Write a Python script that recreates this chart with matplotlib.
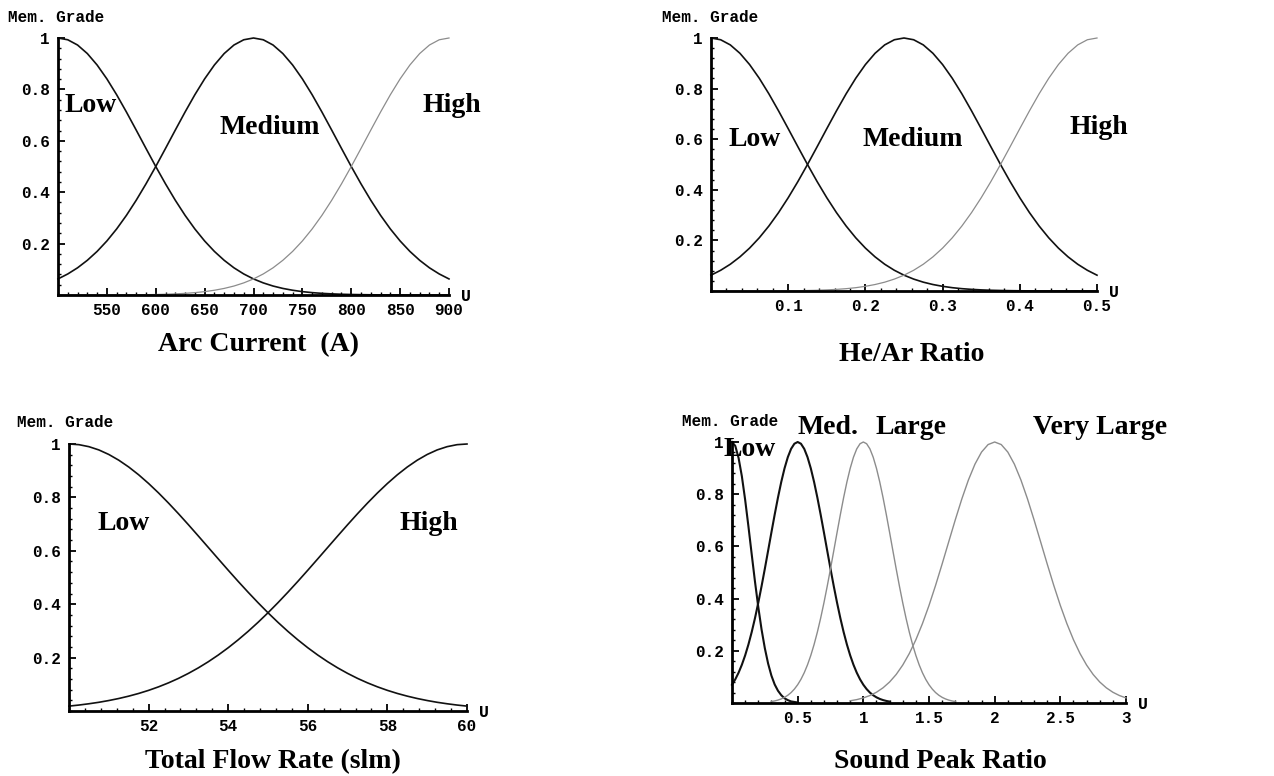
import numpy as np
import matplotlib
matplotlib.use('Agg')
import matplotlib.pyplot as plt
from matplotlib.ticker import MultipleLocator

# ---- data ----
# Arc current (A)
arc_x = np.linspace(500, 900, 41)
arc_low = [1, .9931, .9727, .9395, .8950, .8409, .7792, .7120, .6417, .5704, .5,
           .4323, .3686, .3099, .2570, .2102, .1696, .1350, .1058, .0819, .0625,
           .0471, .0349, .0256, .0185, .0131, .0092, .0064, .0044, .0029, .0020,
           .0013, .0008, .0005, .0003, .0002, .0001, .0001, 0, 0, 0]
arc_med = [.0625, .0819, .1058, .1350, .1696, .2102, .2570, .3099, .3686, .4323,
           .5, .5704, .6417, .7120, .7792, .8409, .8950, .9395, .9727, .9931, 1,
           .9931, .9727, .9395, .8950, .8409, .7792, .7120, .6417, .5704, .5,
           .4323, .3686, .3099, .2570, .2102, .1696, .1350, .1058, .0819, .0625]
arc_high = [0, 0, 0, .0001, .0001, .0002, .0003, .0005, .0008, .0013, .0020,
            .0029, .0044, .0064, .0092, .0131, .0185, .0256, .0349, .0471, .0625,
            .0819, .1058, .1350, .1696, .2102, .2570, .3099, .3686, .4323, .5,
            .5704, .6417, .7120, .7792, .8409, .8950, .9395, .9727, .9931, 1]

# He/Ar ratio
he_x = np.linspace(0, 0.5, 41)
he_low = [1, .9931, .9727, .9395, .8950, .8409, .7792, .7120, .6417, .5704, .5,
          .4323, .3686, .3099, .2570, .2102, .1696, .1350, .1058, .0819, .0625,
          .0471, .0349, .0256, .0185, .0131, .0092, .0064, .0044, .0029, .0020,
          .0013, .0008, .0005, .0003, .0002, .0001, .0001, 0, 0, 0]
he_med = [.0625, .0819, .1058, .1350, .1696, .2102, .2570, .3099, .3686, .4323,
          .5, .5704, .6417, .7120, .7792, .8409, .8950, .9395, .9727, .9931, 1,
          .9931, .9727, .9395, .8950, .8409, .7792, .7120, .6417, .5704, .5,
          .4323, .3686, .3099, .2570, .2102, .1696, .1350, .1058, .0819, .0625]
he_high = [0, 0, 0, .0001, .0001, .0002, .0003, .0005, .0008, .0013, .0020,
           .0029, .0044, .0064, .0092, .0131, .0185, .0256, .0349, .0471, .0625,
           .0819, .1058, .1350, .1696, .2102, .2570, .3099, .3686, .4323, .5,
           .5704, .6417, .7120, .7792, .8409, .8950, .9395, .9727, .9931, 1]

# Total flow rate (slm)
flow_x = np.linspace(50, 60, 41)
flow_low = [1, .9975, .9900, .9778, .9608, .9394, .9139, .8847, .8521, .8167,
            .7788, .7390, .6977, .6554, .6126, .5698, .5273, .4855, .4449, .4056,
            .3679, .3321, .2982, .2665, .2369, .2096, .1845, .1616, .1409, .1221,
            .1054, .0905, .0773, .0657, .0556, .0468, .0392, .0326, .0271, .0223,
            .0183]
flow_high = [.0183, .0223, .0271, .0326, .0392, .0468, .0556, .0657, .0773, .0905,
             .1054, .1221, .1409, .1616, .1845, .2096, .2369, .2665, .2982, .3321,
             .3679, .4056, .4449, .4855, .5273, .5698, .6126, .6554, .6977, .7390,
             .7788, .8167, .8521, .8847, .9139, .9394, .9608, .9778, .9900, .9975,
             1]

# Sound peak ratio
snd_low_x = np.linspace(0, 0.5, 21)
snd_low = [1, .985, .939, .869, .779, .677, .570, .465, .368, .282, .210,
           .151, .105, .071, .047, .030, .018, .011, .006, .004, .002]
snd_med_x = np.linspace(0, 1.2, 49)
snd_med = [.0700, .0907, .1160, .1464, .1823, .2240, .2717, .3251, .3839, .4473,
           .5143, .5836, .6534, .7219, .7871, .8469, .8991, .9419, .9738, .9934, 1,
           .9934, .9738, .9419, .8991, .8469, .7871, .7219, .6534, .5836, .5143,
           .4473, .3839, .3251, .2717, .2240, .1823, .1464, .1160, .0907, .0700,
           .0533, .0400, .0297, .0217, .0157, .0112, .0079, .0054]
snd_large_x = np.linspace(0.3, 1.7, 57)
snd_large = [.0054, .0079, .0112, .0157, .0217, .0297, .0400, .0533, .0700, .0907,
             .1160, .1464, .1823, .2240, .2717, .3251, .3839, .4473, .5143, .5836,
             .6534, .7219, .7871, .8469, .8991, .9419, .9738, .9934, 1,
             .9934, .9738, .9419, .8991, .8469, .7871, .7219, .6534, .5836, .5143,
             .4473, .3839, .3251, .2717, .2240, .1823, .1464, .1160, .0907, .0700,
             .0533, .0400, .0297, .0217, .0157, .0112, .0079, .0054]
snd_vl_x = np.linspace(0.9, 3.0, 43)
snd_vl = [.0085, .013, .0195, .0286, .0412, .0582, .0805, .1092, .1453, .1895,
          .2424, .304, .3737, .4506, .5327, .6174, .7016, .7819, .8543, .9152,
          .9614, .9902, 1, .9902, .9614, .9152, .8543, .7819, .7016, .6174,
          .5327, .4506, .3737, .304, .2424, .1895, .1453, .1092, .0805, .0582,
          .0412, .0286, .0195]

W, H = 1274, 776
fig = plt.figure(figsize=(W / 100, H / 100), dpi=100)

serif = {'family': 'Liberation Serif', 'weight': 'bold'}
mono = {'family': 'Liberation Mono', 'weight': 'bold'}
DARK = '#111111'
LIGHT = '#8c8c8c'


def px_axes(l, r, t, b):
    return fig.add_axes([l / W, 1 - b / H, (r - l) / W, (b - t) / H])


def ftext(x, y, s, size, font, ha='center', va='center'):
    fig.text(x / W, 1 - y / H, s, fontsize=size, ha=ha, va=va, **font)


def style(ax, xlim, xmin, xticks, xlabels):
    ax.set_xlim(*xlim)
    ax.set_ylim(0, 1)
    for s in ['top', 'right']:
        ax.spines[s].set_visible(False)
    ax.spines['left'].set_linewidth(2)
    ax.spines['bottom'].set_linewidth(2)
    ax.set_xticks(xticks)
    ax.set_xticklabels(xlabels)
    ax.xaxis.set_minor_locator(MultipleLocator(xmin))
    ax.set_yticks([0.2, 0.4, 0.6, 0.8, 1])
    ax.set_yticklabels(['0.2', '0.4', '0.6', '0.8', '1'])
    ax.yaxis.set_minor_locator(MultipleLocator(0.04))
    ax.tick_params(which='major', direction='in', length=5, width=1.3, pad=6)
    ax.tick_params(which='minor', direction='in', length=2.5, width=1)
    for lab in ax.get_xticklabels() + ax.get_yticklabels():
        lab.set_fontfamily('Liberation Mono')
        lab.set_fontweight('bold')
        lab.set_fontsize(11.5)
    ax.text(1.03, -0.005, 'U', transform=ax.transAxes, fontsize=12, ha='left',
            va='center', **mono)


# Arc current
ax1 = px_axes(58, 449, 38, 295)
ax1.plot(arc_x, arc_low, color=DARK, lw=1.2, clip_on=False)
ax1.plot(arc_x, arc_med, color=DARK, lw=1.2, clip_on=False)
ax1.plot(arc_x, arc_high, color=LIGHT, lw=0.9, clip_on=False)
style(ax1, (500, 900), 10, [550, 600, 650, 700, 750, 800, 850, 900],
      ['550', '600', '650', '700', '750', '800', '850', '900'])
ftext(8, 17, 'Mem. Grade', 11.5, mono, ha='left')
ftext(91, 105, 'Low', 20, serif)
ftext(270, 128, 'Medium', 20, serif)
ftext(452, 105, 'High', 20, serif)
ftext(259, 345, 'Arc Current  (A)', 20, serif)

# He/Ar ratio
ax2 = px_axes(711, 1097, 38, 291)
ax2.plot(he_x, he_low, color=DARK, lw=1.2, clip_on=False)
ax2.plot(he_x, he_med, color=DARK, lw=1.2, clip_on=False)
ax2.plot(he_x, he_high, color=LIGHT, lw=0.9, clip_on=False)
style(ax2, (0, 0.5), 0.02, [0.1, 0.2, 0.3, 0.4, 0.5],
      ['0.1', '0.2', '0.3', '0.4', '0.5'])
ftext(662, 17, 'Mem. Grade', 11.5, mono, ha='left')
ftext(755, 140, 'Low', 20, serif)
ftext(913, 140, 'Medium', 20, serif)
ftext(1099, 128, 'High', 20, serif)
ftext(912, 355, 'He/Ar Ratio', 20, serif)

# Total flow rate
ax3 = px_axes(69, 467, 444, 711)
ax3.plot(flow_x, flow_low, color=DARK, lw=1.2, clip_on=False)
ax3.plot(flow_x, flow_high, color=DARK, lw=1.2, clip_on=False)
style(ax3, (50, 60), 0.4, [52, 54, 56, 58, 60],
      ['52', '54', '56', '58', '60'])
ftext(17, 423, 'Mem. Grade', 11.5, mono, ha='left')
ftext(124, 523, 'Low', 20, serif)
ftext(429, 523, 'High', 20, serif)
ftext(273, 762, 'Total Flow Rate (slm)', 20, serif)

# Sound peak ratio
ax4 = px_axes(732, 1126, 442, 703)
ax4.plot(snd_low_x, snd_low, color=DARK, lw=1.5, clip_on=False)
ax4.plot(snd_med_x, snd_med, color=DARK, lw=1.5, clip_on=False)
ax4.plot(snd_large_x, snd_large, color=LIGHT, lw=1.0, clip_on=False)
ax4.plot(snd_vl_x, snd_vl, color=LIGHT, lw=1.0, clip_on=False)
style(ax4, (0, 3), 0.1, [0.5, 1, 1.5, 2, 2.5, 3],
      ['0.5', '1', '1.5', '2', '2.5', '3'])
ftext(682, 422, 'Mem. Grade', 11.5, mono, ha='left')
ftext(750, 449, 'Low', 20, serif)
ftext(828, 427, 'Med.', 20, serif)
ftext(911, 427, 'Large', 20, serif)
ftext(1100, 427, 'Very Large', 20, serif)
ftext(940, 762, 'Sound Peak Ratio', 20, serif)

plt.savefig('out.png', dpi=100)
